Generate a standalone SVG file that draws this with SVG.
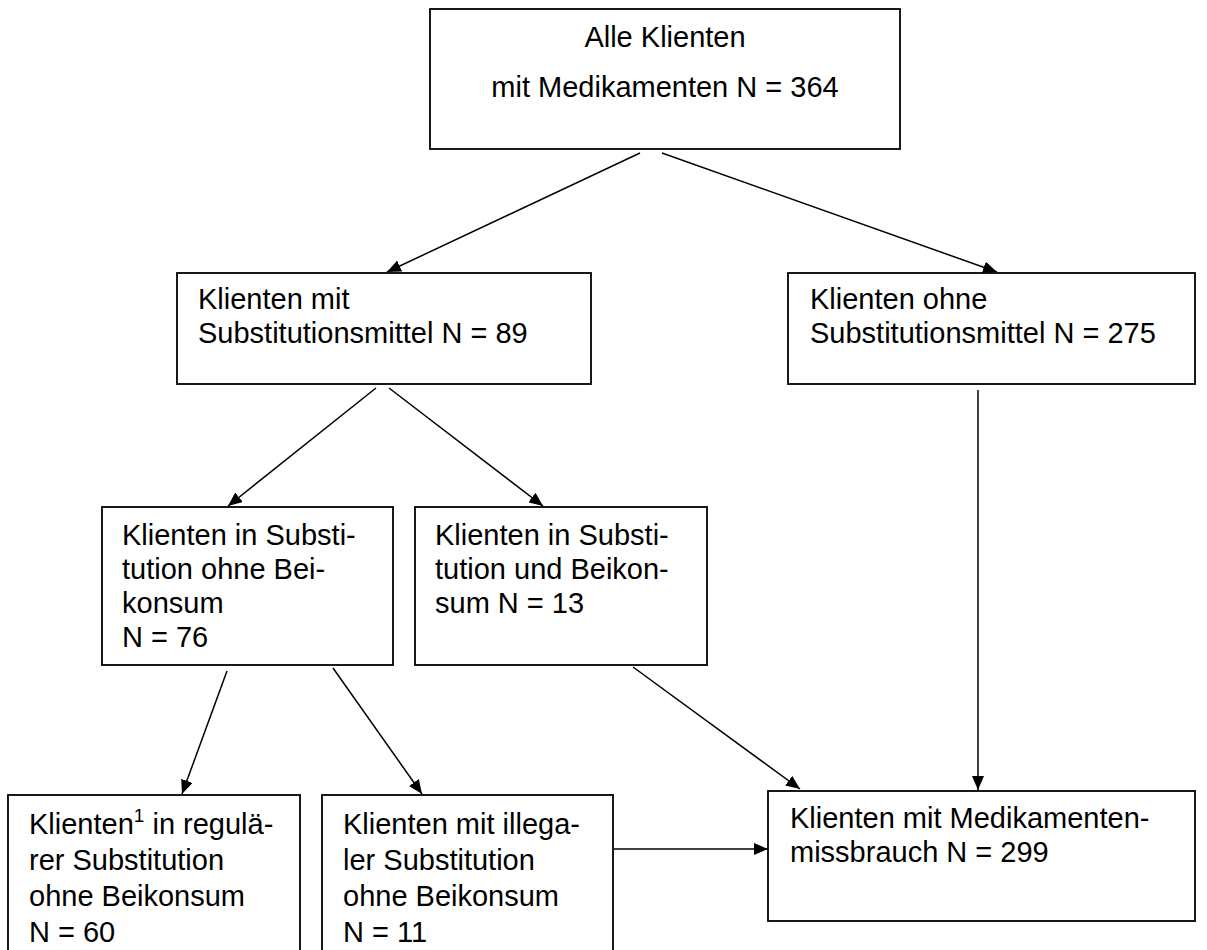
<svg xmlns="http://www.w3.org/2000/svg" width="1207" height="950" viewBox="0 0 1207 950">
<style>
.box{fill:#fff;stroke:#000;stroke-width:1.8}
.t{font-family:"Liberation Sans",Arial,sans-serif;font-size:29px;fill:#000}
.c{text-anchor:middle}
.ln{stroke:#000;stroke-width:1.5;fill:none;marker-end:url(#ah)}
</style>
<defs>
<marker id="ah" viewBox="0 0 14 12" refX="14" refY="6" markerWidth="14" markerHeight="12" markerUnits="userSpaceOnUse" orient="auto">
<path d="M0,0 L14,6 L0,12 z" fill="#000"/>
</marker>
</defs>
<rect width="1207" height="950" fill="#fff"/>
<g id="connectors">
<line class="ln" x1="640" y1="153" x2="387" y2="272"/>
<line class="ln" x1="662" y1="153" x2="997" y2="272"/>
<line class="ln" x1="376" y1="388" x2="228" y2="506"/>
<line class="ln" x1="389" y1="388" x2="543" y2="506"/>
<line class="ln" x1="978" y1="390" x2="978" y2="790"/>
<line class="ln" x1="227" y1="671" x2="182" y2="794"/>
<line class="ln" x1="333" y1="668" x2="422" y2="794"/>
<line class="ln" x1="633" y1="667" x2="800" y2="789"/>
<line class="ln" x1="614" y1="849" x2="768" y2="849"/>
</g>
<g id="n-all">
<rect class="box" x="430" y="9" width="470" height="140"/>
<text class="t c" x="665" y="47">Alle Klienten</text>
<text class="t c" x="665" y="97">mit Medikamenten N = 364</text>
</g>
<g id="n-mit">
<rect class="box" x="177" y="273" width="414" height="111"/>
<text class="t" x="198" y="309">Klienten mit</text>
<text class="t" x="198" y="343">Substitutionsmittel N = 89</text>
</g>
<g id="n-ohne">
<rect class="box" x="788" y="273" width="407" height="111"/>
<text class="t" x="810" y="309">Klienten ohne</text>
<text class="t" x="810" y="343">Substitutionsmittel N = 275</text>
</g>
<g id="n-ohne-bei">
<rect class="box" x="102" y="507" width="291" height="158"/>
<text class="t" x="122" y="545">Klienten in Substi-</text>
<text class="t" x="122" y="579">tution ohne Bei-</text>
<text class="t" x="122" y="613">konsum</text>
<text class="t" x="122" y="647">N = 76</text>
</g>
<g id="n-und-bei">
<rect class="box" x="415" y="507" width="292" height="158"/>
<text class="t" x="435" y="545">Klienten in Substi-</text>
<text class="t" x="435" y="579">tution und Beikon-</text>
<text class="t" x="435" y="613">sum N = 13</text>
</g>
<g id="n-regulaer">
<rect class="box" x="8" y="795" width="292" height="170"/>
<text class="t" x="29" y="834">Klienten<tspan font-size="19" dy="-12">1</tspan><tspan dy="12"> in regulä-</tspan></text>
<text class="t" x="29" y="870">rer Substitution</text>
<text class="t" x="29" y="906">ohne Beikonsum</text>
<text class="t" x="29" y="942">N = 60</text>
</g>
<g id="n-illegal">
<rect class="box" x="322" y="795" width="291" height="170"/>
<text class="t" x="343" y="834">Klienten mit illega-</text>
<text class="t" x="343" y="870">ler Substitution</text>
<text class="t" x="343" y="906">ohne Beikonsum</text>
<text class="t" x="343" y="942">N = 11</text>
</g>
<g id="n-missbrauch">
<rect class="box" x="768" y="791" width="427" height="130"/>
<text class="t" x="790" y="828">Klienten mit Medikamenten-</text>
<text class="t" x="790" y="862">missbrauch N = 299</text>
</g>
</svg>
